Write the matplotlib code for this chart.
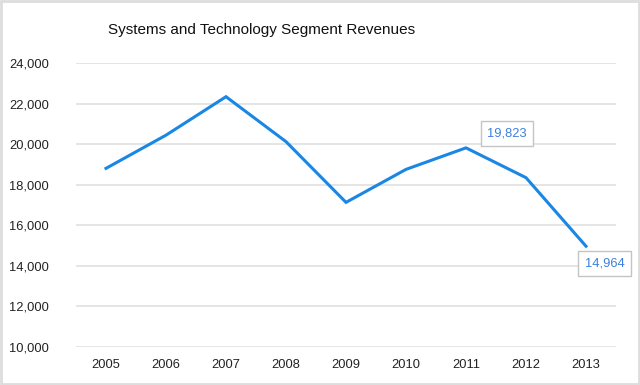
import matplotlib.pyplot as plt
from matplotlib.patches import Rectangle
from matplotlib.ticker import FuncFormatter

years = ["2005", "2006", "2007", "2008", "2009", "2010", "2011", "2012", "2013"]
revenues = [18810, 20450, 22350, 20130, 17130, 18760, 19823, 18350, 14964]
labelled = {6: "19,823", 8: "14,964"}

plt.rcParams['font.family'] = ['Liberation Sans', 'DejaVu Sans']

fig = plt.figure(figsize=(6.4, 3.85), dpi=100)
ax = fig.add_axes([76 / 640, 1 - 346.7 / 385, 540 / 640, (346.7 - 63.3) / 385])

x = range(len(years))
ax.plot(x, revenues, color='#1a87e4', linewidth=2.2, solid_joinstyle='miter', zorder=3)

ax.set_xlim(-0.5, len(years) - 0.5)
ax.set_ylim(10000, 24000)
ax.set_yticks(range(10000, 24001, 2000))
ax.yaxis.set_major_formatter(FuncFormatter(lambda v, p: f"{int(v):,}"))
ax.set_xticks(list(x))
ax.set_xticklabels(years)
ax.grid(axis='y', color='#e0e0e0', linewidth=1.2)
ax.set_axisbelow(True)
for s in ax.spines.values():
    s.set_visible(False)
ax.tick_params(length=0, labelsize=9.3, colors='#222222')
ax.tick_params(axis='y', pad=19.5)
ax.tick_params(axis='x', pad=9)

# value boxes
box = dict(boxstyle='square,pad=0.5', fc='white', ec='#c4c4c4', lw=1)
ax.annotate(labelled[6], (6, revenues[6]), xytext=(29.5, 10.3), textcoords='offset points',
            ha='center', va='center', color='#3a80e0', fontsize=9.3, bbox=box)
ax.annotate(labelled[8], (8, revenues[8]), xytext=(13.5, -12.5), textcoords='offset points',
            ha='center', va='center', color='#3a80e0', fontsize=9.3, annotation_clip=False,
            bbox=box)

fig.text(0.408, 1 - 30 / 385, "Systems and Technology Segment Revenues",
         ha='center', va='center', fontsize=11, color='#111111')

fig.patches.append(Rectangle((0.002, 0.003), 0.996, 0.994, transform=fig.transFigure,
                             fill=False, ec='#dddddd', lw=2))

fig.savefig("out.png", dpi=100)
